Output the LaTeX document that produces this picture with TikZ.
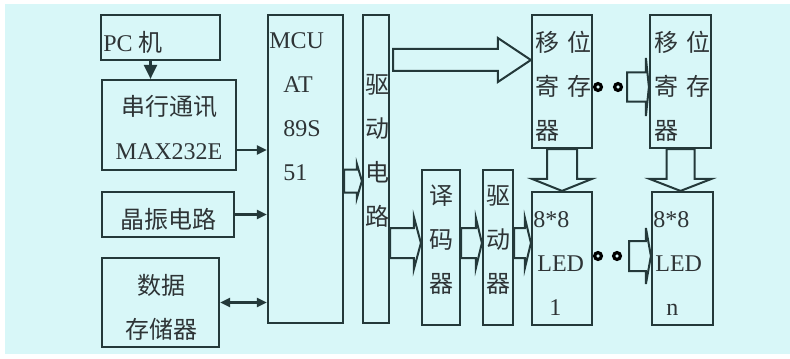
\documentclass[tikz,border=0pt]{standalone}
\usepackage{fontspec}
\setmainfont{Liberation Serif}
\newfontfamily\cjk{Noto Sans CJK SC}
\usetikzlibrary{arrows.meta, calc, fit}
\definecolor{bgCyan}{HTML}{D8F7F8}
\definecolor{lineDark}{HTML}{24393A}
\definecolor{textDark}{HTML}{2E3436}
% hollow block arrow, left to right: from, to, shaft half, head half, head length
\newcommand{\hblock}[5]{%
  \draw[blockarrow] let \p1=#1, \p2=#2 in
    (\x1,\y1+#3) -- (\x2-#5,\y1+#3) -- (\x2-#5,\y1+#4) -- (\x2,\y1)
    -- (\x2-#5,\y1-#4) -- (\x2-#5,\y1-#3) -- (\x1,\y1-#3) -- cycle;}
% hollow block arrow, downwards
\newcommand{\vblock}[5]{%
  \draw[blockarrow] let \p1=#1, \p2=#2 in
    (\x1-#3,\y1) -- (\x1-#3,\y2+#5) -- (\x1-#4,\y2+#5) -- (\x1,\y2)
    -- (\x1+#4,\y2+#5) -- (\x1+#3,\y2+#5) -- (\x1+#3,\y1) -- cycle;}

\begin{document}
\begin{tikzpicture}[x=0.5pt, y=-0.5pt,
  blk/.style={draw=lineDark, line width=1.1pt, inner sep=0pt},
  lbl/.style={inner sep=0pt, text=textDark, font=\fontsize{12pt}{22pt}\selectfont},
  cjklbl/.style={lbl, font=\cjk\fontsize{12pt}{22pt}\selectfont},
  link/.style={draw=lineDark, line width=1.1pt},
  tri/.style={link, -{Triangle[length=5pt,width=4.5pt]}},
  bitri/.style={link, {Triangle[length=5pt,width=4.5pt]}-{Triangle[length=5pt,width=4.5pt]}},
  blockarrow/.style={draw=lineDark, line width=1pt, fill=bgCyan},
  ring/.style={circle, draw=black, line width=1.6pt, minimum size=3.4pt, inner sep=0pt}]

  \fill[white] (0,0) rectangle (790,358);
  \fill[bgCyan] (5,4) rectangle (790,354);
  \useasboundingbox (0,0) rectangle (790,358);

  % left column
  \node[blk, fit={(101,15) (220,60)}] (pc) {};
  \node[lbl, anchor=west] (pctext) at (103,42) {PC {\cjk 机}};
  \node[blk, fit={(102,80) (236,170)}] (ser) {};
  \node[lbl, align=center] (sertext) at (169,127.5) {{\cjk 串行通讯}\\MAX232E};
  \node[blk, fit={(102,192) (234,237)}] (osc) {};
  \node[cjklbl] (osctext) at (168,219) {晶振电路};
  \node[blk, fit={(102,258) (219,347)}] (mem) {};
  \node[cjklbl, align=center] (memtext) at (161,307) {数据\\存储器};

  % controller and drivers
  \node[blk, fit={(268,15) (343,323)}] (mcu) {};
  \node[lbl, anchor=north west, align=left] (mcutext) at (269,32)
    {MCU\\\hspace*{7pt}AT\\\hspace*{7pt}89S\\\hspace*{7pt}51};
  \node[blk, fit={(363,15) (389,323)}] (drv) {};
  \node[cjklbl, align=center] (drvtext) at (377,151) {驱\\动\\电\\路};
  \node[blk, fit={(422,170) (460,325)}] (dec) {};
  \node[cjklbl, align=center] (dectext) at (441,240) {译\\码\\器};
  \node[blk, fit={(483,170) (513,325)}] (drvb) {};
  \node[cjklbl, align=center] (drvbtext) at (498,240) {驱\\动\\器};

  % shift registers and LED matrices
  \node[blk, fit={(532,15) (592,148)}] (sra) {};
  \node[cjklbl, anchor=north west, align=left] (sratext) at (535,31)
    {移\hspace{4pt}位\\寄\hspace{4pt}存\\器};
  \node[blk, fit={(650,15) (711,148)}] (srn) {};
  \node[cjklbl, anchor=north west, align=left] (srntext) at (654,31)
    {移\hspace{4pt}位\\寄\hspace{4pt}存\\器};
  \node[blk, fit={(532,192) (592,325)}] (leda) {};
  \node[lbl, anchor=north west, align=left] (ledatext) at (533,211)
    {8*8\\\hspace*{2pt}LED\\\hspace*{8pt}1};
  \node[blk, fit={(652,192) (713,325)}] (ledn) {};
  \node[lbl, anchor=north west, align=left] (ledntext) at (653,211)
    {8*8\\\hspace*{1pt}LED\\\hspace*{6.5pt}n};

  \node[ring] (dta) at (598,87) {};
  \node[ring] (dtb) at (618,87) {};
  \node[ring] (dtc) at (598,256) {};
  \node[ring] (dtd) at (617,256) {};

  % plain connectors
  \coordinate (pcout) at ([xshift=-5pt]pc.south);
  \draw[link, -{Triangle[length=7pt,width=6.5pt]}] (pcout) -- (pcout |- ser.north);
  \coordinate (serout) at ([yshift=-12.5pt]ser.east);
  \draw[tri] (serout) -- (serout -| mcu.west);
  \draw[tri] (osc.east) -- (osc.east -| mcu.west);
  \draw[bitri] (mem.east) -- (mem.east -| mcu.west);

  % block arrows
  \hblock{([yshift=-6pt]mcu.east)}{(drv.west)}{5.75pt}{8.5pt}{2.5pt}
  \hblock{([yshift=-37pt]drv.east)}{(dec.west)}{7.5pt}{13pt}{3.5pt}
  \hblock{([yshift=2.25pt]dec.east)}{(drvb.west)}{7.5pt}{12.5pt}{3pt}
  \hblock{([yshift=2.25pt]drvb.east)}{(leda.west)}{7.5pt}{12.5pt}{3pt}
  \coordinate (bigout) at ([xshift=1.5pt,yshift=54.5pt]drv.east);
  \hblock{(bigout)}{(sra.west)}{5.5pt}{11pt}{16.5pt}
  \hblock{([xshift=2pt]dtb.east)}{(srn.west)}{7.25pt}{14.5pt}{1.5pt}
  \hblock{([xshift=3.5pt]dtd.east)}{(ledn.west)}{7.5pt}{14pt}{2.5pt}
  \vblock{(sra.south)}{(leda.north)}{7.5pt}{15pt}{6pt}
  \vblock{(srn.south)}{(ledn.north)}{7pt}{15.5pt}{6pt}
\end{tikzpicture}
\end{document}
